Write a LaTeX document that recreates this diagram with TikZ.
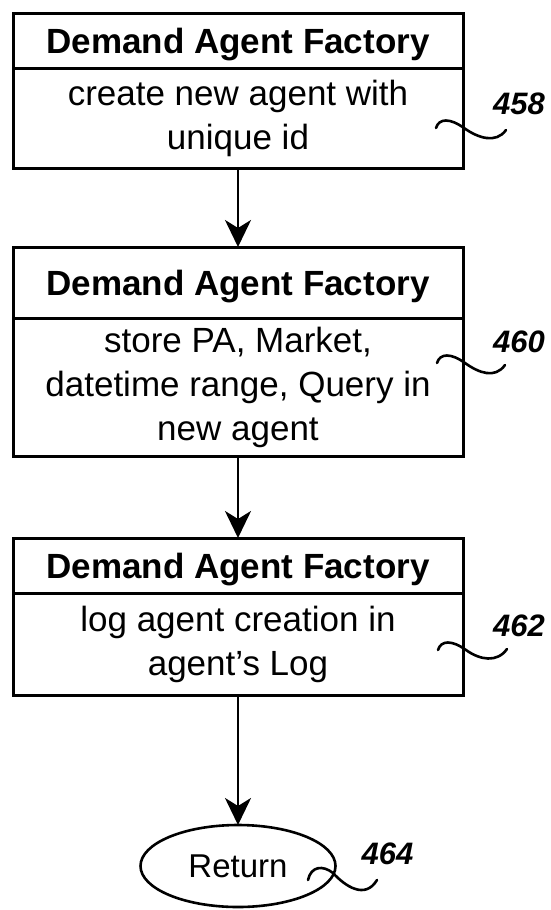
\documentclass[tikz,border=0pt]{standalone}
\usepackage{fontspec}
\setmainfont{Liberation Sans}
\usetikzlibrary{arrows.meta,positioning,shapes.geometric}

\begin{document}
\begin{tikzpicture}[
    x=1pt, y=1pt,
    node distance=79pt,
    head/.style={
        rectangle,
        draw,
        line width=3pt,
        outer sep=0pt,
        minimum width=450pt,
        minimum height=55pt,
        text depth=0pt,
        font=\fontsize{35}{42}\selectfont\bfseries
    },
    body/.style={
        rectangle,
        draw,
        line width=3pt,
        outer sep=0pt,
        align=center,
        minimum width=450pt,
        font=\fontsize{35}{44}\selectfont
    },
    term/.style={
        ellipse,
        draw,
        line width=2.6pt,
        outer sep=0pt,
        inner sep=0pt,
        minimum width=195pt,
        minimum height=82pt,
        font=\fontsize{33}{40}\selectfont
    },
    num/.style={font=\fontsize{31}{36}\selectfont\bfseries\itshape, inner sep=0pt},
    arrow/.style={-{Stealth[length=27pt, width=26pt, inset=8pt]}, line width=2.6pt},
    lead/.style={line width=2.6pt, line cap=round}
]
\useasboundingbox (0,0) rectangle (551,-910);

\node[head] (h1) at (238,-40.5) {Demand Agent Factory};
\node[body, minimum height=100pt, below=0pt of h1] (b1)
{create new agent with\\unique id};

\node[head, minimum height=71pt, below=of b1] (h2) {Demand Agent Factory};
\node[body, minimum height=138pt, below=0pt of h2] (b2)
{store PA, Market,\\datetime range, Query in\\new agent};

\node[head, below=82pt of b2] (h3) {Demand Agent Factory};
\node[body, minimum height=102pt, below=0pt of h3] (b3)
{log agent creation in\\agent's Log};

\node[term, below=130pt of b3] (ret) {Return};

\draw[arrow] (b1) -- (h2);
\draw[arrow] (b2) -- (h3);
\draw[arrow] (b3) -- (ret);

% reference numerals
\node[num] (n458) at ([shift={(56,14)}]b1.east) {458};
\node[num] (n460) at ([shift={(56,45)}]b2.east) {460};
\node[num] (n462) at ([shift={(56,18)}]b3.east) {462};
\node[num] (n464) at ([shift={(52,12)}]ret.east) {464};

\draw[lead] ([shift={(-27,-10)}]b1.east) .. controls +(3,10) and +(-14,10) .. ++(28,0)
    .. controls +(14,-10) and +(-10,-14) .. ++(42,-2);
\draw[lead] ([shift={(-26,24)}]b2.east) .. controls +(3,10) and +(-14,10) .. ++(28,0)
    .. controls +(14,-10) and +(-10,-14) .. ++(40,-2);
\draw[lead] ([shift={(-25,-6)}]b3.east) .. controls +(3,10) and +(-14,10) .. ++(28,0)
    .. controls +(14,-10) and +(-10,-14) .. ++(41,1);
\draw[lead] ([shift={(-27.5,-14)}]ret.east) .. controls +(3,14) and +(-10,8) .. ++(25,7)
    .. controls +(12,-13) and +(-12,-20) .. ++(44,-7);

\end{tikzpicture}
\end{document}
